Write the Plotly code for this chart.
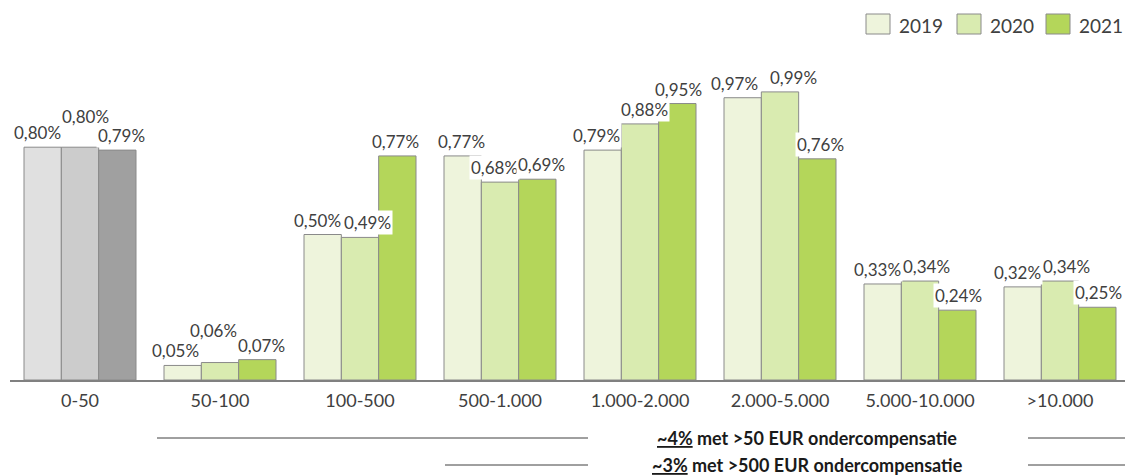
import plotly.graph_objects as go

categories = ["0-50", "50-100", "100-500", "500-1.000", "1.000-2.000", "2.000-5.000", "5.000-10.000", ">10.000"]
years = ["2019", "2020", "2021"]
v2019 = [0.80, 0.05, 0.50, 0.77, 0.79, 0.97, 0.33, 0.32]
v2020 = [0.80, 0.06, 0.49, 0.68, 0.88, 0.99, 0.34, 0.34]
v2021 = [0.79, 0.07, 0.77, 0.69, 0.95, 0.76, 0.24, 0.25]
series = [v2019, v2020, v2021]

green_cols = ["#eef4dc", "#d9ebb0", "#b4d65a"]
gray_cols = ["#e0e0e0", "#cccccc", "#a0a0a0"]
outline = "#8a8a8a"
txt = "#404040"
FONT = "Lato"

# label nudges (px) to keep crowded labels apart, per series then per category
label_dx = [
    [-5, -7, -5, -1, -6, -8, -5, -5],
    [5, -7, 7, -6, 4, 13, 6, 6],
    [4, 4, -2, 4, 1, 3, 1, 1],
]
label_lift = {(0, 1): 16, (1, 1): 18}

ML, MR, MT, MB = 10, 0, 50, 95
W, H = 1125, 475
PW, PH = W - ML - MR, H - MT - MB


def px2paper(px, py):
    return (px - ML) / PW, (H - MB - py) / PH


bargap = 0.2
fig = go.Figure()
for j, (yr, vals) in enumerate(zip(years, series)):
    colors = [gray_cols[j]] + [green_cols[j]] * (len(categories) - 1)
    fig.add_trace(go.Bar(
        x=categories, y=vals, name=yr,
        marker=dict(color=colors, line=dict(color=outline, width=1)),
        showlegend=False,
    ))

bw = (1 - bargap) / 3
for j, vals in enumerate(series):
    for i, v in enumerate(vals):
        label = f"{v:.2f}".replace(".", ",") + "%"
        fig.add_annotation(
            x=i + (j - 1) * bw, y=v, xref="x", yref="y",
            text=label, showarrow=False, yanchor="bottom", xanchor="center",
            xshift=label_dx[j][i],
            yshift=2 + label_lift.get((i, j), 0),
            bgcolor="white", borderpad=1,
            font=dict(family=FONT, size=17, color=txt),
        )

# manual legend (large swatches)
leg_x = [866, 957, 1046]
for j, yr in enumerate(years):
    x0, y0 = px2paper(leg_x[j], 34)
    x1, y1 = px2paper(leg_x[j] + 24, 14)
    fig.add_shape(type="rect", xref="paper", yref="paper", x0=x0, x1=x1, y0=y0, y1=y1,
                  fillcolor=green_cols[j], line=dict(color=outline, width=1))
    tx, ty = px2paper(leg_x[j] + 31, 25)
    fig.add_annotation(x=tx, y=ty, xref="paper", yref="paper", text=yr, showarrow=False,
                       xanchor="left", yanchor="middle",
                       font=dict(family=FONT, size=19, color=txt))

# bottom notes
notes = [
    ("<u>~4%</u> met >50 EUR ondercompensatie", 438, 157),
    ("<u>~3%</u> met >500 EUR ondercompensatie", 465, 445),
]
for text, py, pxs in notes:
    xa, yp = px2paper(pxs, py)
    xb, _ = px2paper(588, py)
    xc, _ = px2paper(1028, py)
    fig.add_shape(type="line", xref="paper", yref="paper", x0=xa, x1=xb, y0=yp, y1=yp,
                  line=dict(color="#404040", width=1))
    fig.add_shape(type="line", xref="paper", yref="paper", x0=xc, x1=1, y0=yp, y1=yp,
                  line=dict(color="#404040", width=1))
    xt, _ = px2paper(807, py)
    fig.add_annotation(x=xt, y=yp, xref="paper", yref="paper", text=text, showarrow=False,
                       font=dict(family=FONT, size=18, color="#1a1a1a", weight="bold"),
                       xanchor="center", yanchor="middle")

fig.update_layout(
    width=W, height=H,
    margin=dict(l=ML, r=MR, t=MT, b=MB),
    barmode="group", bargap=bargap, bargroupgap=0,
    plot_bgcolor="white", paper_bgcolor="white",
    font=dict(family=FONT, size=18, color=txt),
    showlegend=False,
    xaxis=dict(showline=True, linecolor="#808080", linewidth=2, ticks="", ticklabelstandoff=3,
               range=[-0.5, -0.5 + PW / 140], tickfont=dict(family=FONT, size=18, color=txt)),
    yaxis=dict(visible=False, range=[0, 1.134], showgrid=False, zeroline=False),
)

fig.write_html("out.html")
